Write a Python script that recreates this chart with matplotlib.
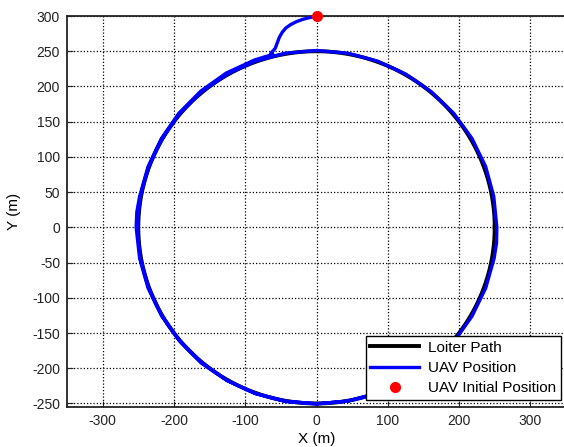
import numpy as np
import matplotlib.pyplot as plt

plt.rcParams['font.family'] = ['Liberation Sans', 'DejaVu Sans']
plt.rcParams['axes.unicode_minus'] = False

# loiter circle
loiter_radius = 250

# UAV approach from its start point to the circle (m)
approach_x = [0, -6, -13, -20, -28, -36, -43, -48, -52, -55, -58, -64]
approach_y = [300, 298.5, 297, 295, 292, 288, 283, 277, 270, 262, 254, 247]

# UAV track on the circle: polar angle (deg) and radius (m)
track_deg = [104, 110, 120, 130, 140, 150, 160, 170, 175, 180, 190, 200, 210, 220,
             230, 240, 250, 260, 270, 280, 290, 300, 310, 320, 330, 340, 350, 355,
             360, 370, 380, 390, 400, 410, 420, 430, 440, 450, 460, 470, 480, 490,
             500, 510, 520, 530, 540, 550, 560, 570, 580, 590, 600, 610, 620, 630,
             640, 650]
track_r = [253, 253, 253, 252.5, 252, 251.5, 251.5, 252, 253, 253, 252, 251.5, 251, 251,
           251.5, 251, 251, 250.5, 250.5, 250.5, 251, 251, 251.5, 252, 252, 252.5, 253, 253.5,
           253, 252.5, 252.5, 252, 251.5, 251, 251, 251, 251, 251, 251, 251, 251, 251,
           251, 250.5, 250.5, 251, 251.5, 251, 250.5, 250.5, 250.5, 250.5, 251, 251, 251, 250.5,
           250.5, 250.5]

start_x, start_y = 0, 300

fig = plt.figure(figsize=(5.64, 4.47), dpi=100)
ax = fig.add_axes([67 / 564, 40 / 447, 499 / 564, 391 / 447])

th = np.deg2rad(np.linspace(0, 360, 361))
ax.plot(loiter_radius * np.cos(th), loiter_radius * np.sin(th), color='black', lw=2.8,
        label='Loiter Path', zorder=3)

t = np.deg2rad(track_deg)
tr = np.array(track_r)
uav_x = np.concatenate([approach_x, tr * np.cos(t)])
uav_y = np.concatenate([approach_y, tr * np.sin(t)])
ax.plot(uav_x, uav_y, color='#0000ff', lw=2.4, label='UAV Position', zorder=4,
        solid_joinstyle='round')

ax.plot(start_x, start_y, 'o', color='red', ms=7, label='UAV Initial Position',
        zorder=5, clip_on=False)

ax.set_xlim(-350, 350)
ax.set_ylim(-255, 300)
ax.set_xticks(np.arange(-300, 301, 100))
ax.set_yticks(np.arange(-250, 301, 50))
ax.grid(True, color='black', linestyle=(0, (1, 1.6)), linewidth=0.9)
ax.tick_params(direction='in', length=4, labelsize=10, colors='#222222', pad=5)
for s in ax.spines.values():
    s.set_linewidth(1.3)
    s.set_color('#222222')

ax.set_xlabel('X (m)', fontsize=11, labelpad=3)
ax.set_ylabel('Y (m)', fontsize=11, labelpad=8)

leg = ax.legend(loc='lower right', bbox_to_anchor=(0.99, 0.018), borderaxespad=0,
                fontsize=11, fancybox=False, framealpha=1, edgecolor='black',
                handlelength=3.2, handletextpad=0.6, borderpad=0.3, labelspacing=0.42)
leg.get_frame().set_linewidth(1.0)

fig.savefig('out.png', dpi=100)
